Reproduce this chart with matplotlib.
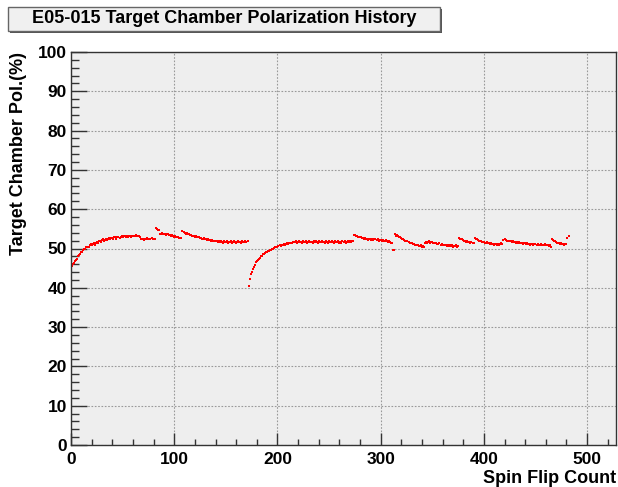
import numpy as np
import matplotlib
matplotlib.use("Agg")
import matplotlib.pyplot as plt
from matplotlib.ticker import MultipleLocator
from matplotlib.patches import Rectangle

# Target chamber polarization (%), one value per spin flip
# Split into the runs between the jumps, just so it is easier to check by eye.
pol_run1 = [44.9, 45.6, 46.0, 46.4, 46.9, 47.0, 47.3, 48.1, 48.4, 48.7,
            49.1, 49.0, 49.6, 49.8, 50.0, 50.4, 50.5, 50.3, 50.9, 51.1,
            50.8, 51.2, 51.4, 51.0, 51.5, 51.7, 51.3, 51.8, 52.0, 51.7,
            52.1, 52.3, 51.9, 52.2, 52.4, 52.1, 52.5, 52.6, 52.3, 52.7,
            52.6, 52.4, 52.8, 52.9, 52.5, 52.8, 53.0, 52.7, 53.0, 53.1,
            52.8, 53.1, 53.2, 52.9, 53.2, 53.0, 53.2, 53.3, 53.0, 53.2,
            53.3, 53.1, 53.2, 53.4, 53.1, 53.3, 53.2, 52.8, 52.4, 52.3,
            52.5, 52.2, 52.4, 52.3, 52.6, 52.4, 52.5, 52.3, 52.6, 52.4,
            52.5, 52.3]
pol_run2 = [55.1, 54.9, 54.7, 54.6, 53.8, 53.7, 53.9, 53.6, 53.8, 53.7,
            53.5, 53.7, 53.6, 53.4, 53.5, 53.3, 53.4, 53.2, 53.0, 53.1,
            52.9, 52.8, 52.9, 52.7, 52.6, 52.7]
pol_run3 = [54.4, 54.2, 54.0, 53.8, 53.9, 53.6, 53.7, 53.4, 53.5, 53.3,
            53.2, 53.3, 53.0, 53.1, 52.9, 53.0, 52.8, 52.6, 52.7, 52.5,
            52.4, 52.6, 52.3, 52.4, 52.2, 52.3, 52.1, 52.2, 52.0, 52.1,
            51.9, 52.0, 51.8, 51.9, 51.7, 51.9, 51.6, 51.8, 51.7, 51.5,
            51.8, 51.6, 51.7, 51.9, 51.5, 51.7, 51.6, 51.8, 51.5, 51.7,
            51.8, 51.6, 51.4, 51.7, 51.8, 51.6, 51.7, 51.5, 51.8, 51.6,
            51.7, 51.9, 51.6, 51.8]
pol_run4 = [40.5, 42.2, 43.4, 44.1, 44.8, 45.4, 45.9, 46.5, 46.8, 47.1,
            47.4, 47.7, 48.0, 48.2, 48.5, 48.7, 48.8, 49.0, 49.1, 49.3,
            49.4, 49.6, 49.7, 49.9, 50.0, 50.1, 50.3, 50.4, 50.5, 50.6,
            50.8, 50.7, 50.9, 51.0, 51.1, 51.0, 51.2, 51.3, 51.2, 51.4,
            51.5, 51.3, 51.5, 51.6, 51.6, 51.6, 51.8, 51.4, 51.7, 51.9,
            51.6, 51.7, 51.5, 51.8, 51.6, 51.7, 51.9, 51.5, 51.7, 51.8,
            51.6, 51.7, 51.4, 51.8, 51.6, 51.9, 51.7, 51.5, 51.8, 51.6,
            51.7, 51.9, 51.6, 51.7, 51.5, 51.8, 51.7, 51.4, 51.8, 51.6,
            51.7, 51.9, 51.6, 51.5, 51.8, 51.7, 51.6, 51.8, 51.5, 51.7,
            51.4, 51.8, 51.6, 51.9, 51.5, 51.7, 51.8, 51.6, 52.0, 51.7,
            51.8, 52.0]
pol_run5 = [53.4, 53.5, 53.2, 53.1, 53.0, 52.9, 52.8, 52.9, 52.7, 52.6,
            52.5, 52.6, 52.3, 52.4, 52.2, 52.5, 52.3, 52.1, 52.4, 52.2,
            52.3, 52.4, 52.1, 52.3, 52.0, 52.2, 52.1, 51.9, 52.2, 52.0,
            51.8, 52.1, 51.9, 51.7, 51.8, 51.6, 51.4, 51.3, 49.7, 49.5]
pol_run6 = [53.6, 53.3, 53.4, 53.1, 52.9, 52.8, 52.6, 52.5, 52.3, 52.2,
            52.0, 51.9, 51.8, 51.6, 51.5, 51.4, 51.3, 51.1, 51.2, 51.0,
            50.9, 51.0, 50.8, 50.7, 50.6, 50.8, 50.5, 50.6, 50.4]
pol_run7 = [51.5, 51.6, 51.4, 51.7, 51.8, 51.5, 51.6, 51.7, 51.4, 51.5,
            51.3, 51.4, 51.2, 51.1, 51.3, 51.0, 51.1, 50.9, 51.0, 50.8,
            51.0, 50.7, 50.9, 50.7, 50.8, 50.6, 50.8, 50.5, 50.7, 50.6,
            50.8, 50.5, 50.7]
pol_run8 = [52.6, 52.5, 52.3, 52.4, 52.1, 52.0, 51.9, 51.7, 51.8, 51.6,
            51.7, 51.5, 51.6, 51.4, 51.5]
pol_run9 = [52.7, 52.5, 52.4, 52.2, 52.0, 51.9, 51.8, 51.7, 51.6, 51.7,
            51.5, 51.4, 51.6, 51.3, 51.4, 51.2, 51.3, 51.1, 51.2, 51.0,
            51.2, 51.1, 50.9, 51.1, 51.0, 51.2, 51.3, 51.1]
pol_run10 = [52.2, 52.3, 52.1, 52.0, 51.9, 52.0, 51.8, 51.9, 51.7, 51.8,
             51.6, 51.7, 51.5, 51.6, 51.4, 51.6, 51.5, 51.3, 51.5, 51.1,
             51.3, 51.4, 51.2, 51.3, 51.1, 51.2, 51.0, 51.2, 51.1, 50.9,
             51.1, 51.2, 51.0, 51.1, 50.9, 51.0, 51.1, 50.8, 51.0, 50.9,
             51.1, 50.8, 50.9, 51.0, 50.7, 50.8, 50.4]
pol_run11 = [52.3, 52.1, 51.9, 51.8, 51.6, 51.5, 51.3, 51.4, 51.2, 51.3,
             51.1, 51.2, 51.0, 51.1, 51.2, 52.6, 53.3]

pol = np.array(pol_run1 + pol_run2 + pol_run3 + pol_run4 + pol_run5 + pol_run6
               + pol_run7 + pol_run8 + pol_run9 + pol_run10 + pol_run11)
flips = np.arange(len(pol))

x_ticks = [0, 100, 200, 300, 400, 500]
y_ticks = [0, 10, 20, 30, 40, 50, 60, 70, 80, 90, 100]

title = "E05-015 Target Chamber Polarization History"
xlab = "Spin Flip Count"
ylab = "Target Chamber Pol.(%)"

plt.rcParams['font.family'] = ['Liberation Sans', 'DejaVu Sans']

fig = plt.figure(figsize=(6.18, 4.87), dpi=100)
ax = fig.add_axes([71 / 618, 42 / 487, 545 / 618, 393 / 487])
ax.set_facecolor('#eeeeee')

ax.plot(flips, pol, linestyle='none', marker='s', markersize=2.0,
        color='red', markeredgewidth=0)

ax.set_xlim(0, 528)
ax.set_ylim(0, 100)
ax.set_xticks(x_ticks)
ax.set_yticks(y_ticks)
ax.xaxis.set_minor_locator(MultipleLocator(20))
ax.yaxis.set_minor_locator(MultipleLocator(2))

# ROOT look: ticks inside, only on left/bottom, dotted grid at majors
ax.tick_params(axis='both', which='both', direction='in', top=False, right=False,
               labelsize=12.5, colors='#333333', labelcolor='black')
ax.tick_params(axis='x', which='major', length=8.6, width=1, pad=5)
ax.tick_params(axis='x', which='minor', length=4.3, width=1)
ax.tick_params(axis='y', which='major', length=11.5, width=1, pad=3)
ax.tick_params(axis='y', which='minor', length=5.8, width=1)
for lab in ax.get_xticklabels() + ax.get_yticklabels():
    lab.set_fontweight('bold')
ax.grid(True, which='major', linestyle=(0, (1.5, 1.5)), color='#999999', linewidth=0.8)
ax.set_axisbelow(True)
for sp in ax.spines.values():
    sp.set_color('#333333')
    sp.set_linewidth(1.0)

ax.set_xlabel(xlab, fontsize=13, fontweight='bold', loc='right', labelpad=2)
ax.set_ylabel(ylab, fontsize=13, fontweight='bold', loc='top')
ax.yaxis.set_label_coords(-0.081, 1.0)

# title box with the little shadow, like the ROOT canvas
box_l, box_w = 8 / 618, 432 / 618
box_b, box_h = 1 - 31 / 487, 24 / 487
fig.patches.append(Rectangle((box_l + 2 / 618, box_b - 2 / 487), box_w, box_h,
                             transform=fig.transFigure, facecolor='#555555',
                             edgecolor='none', zorder=1))
fig.patches.append(Rectangle((box_l, box_b), box_w, box_h,
                             transform=fig.transFigure, facecolor='#f0f0f0',
                             edgecolor='#666666', linewidth=1, zorder=2))
fig.text(box_l + box_w / 2, 1 - 18.5 / 487, title, ha='center', va='center',
         fontsize=13, fontweight='bold', zorder=3)

fig.savefig('out.png', dpi=100)
